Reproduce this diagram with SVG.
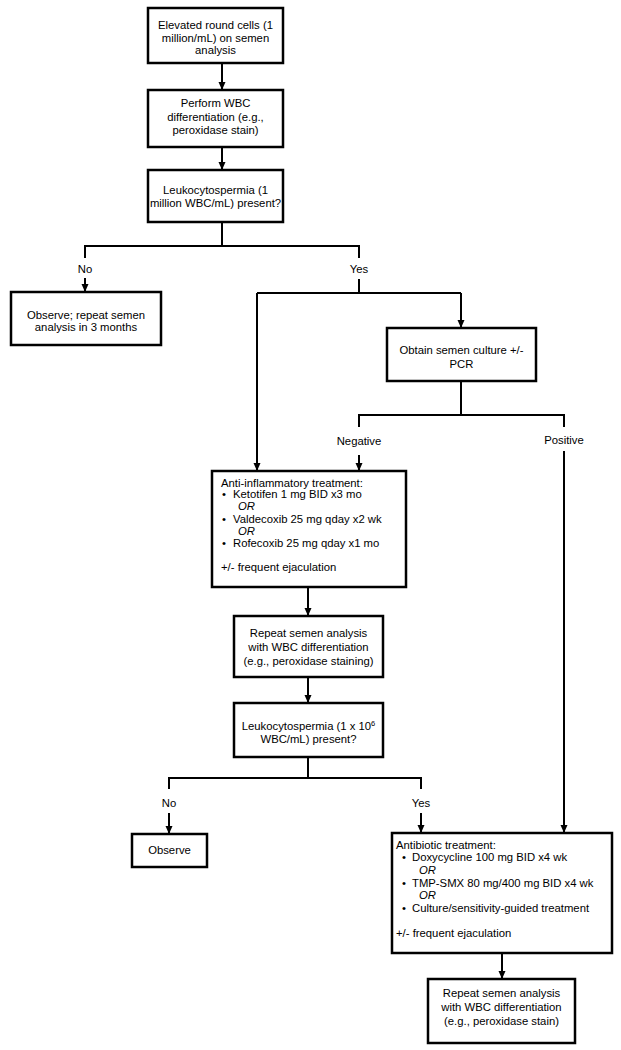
<svg xmlns="http://www.w3.org/2000/svg" width="621" height="1050" viewBox="0 0 621 1050">
<defs>
<marker id="ah" viewBox="0 0 8 8" refX="8" refY="4" markerWidth="8" markerHeight="8" markerUnits="userSpaceOnUse" orient="auto">
<path d="M0,0.5 L8,4 L0,7.5 Z" fill="#000"/>
</marker>
</defs>
<style>
.box{fill:#fff;stroke:#000;stroke-width:2.5}
.ln{fill:none;stroke:#000;stroke-width:2}
.ar{fill:none;stroke:#000;stroke-width:2;marker-end:url(#ah)}
text{font-family:"Liberation Sans",Arial,sans-serif;font-size:11.3px;fill:#000}
.c{text-anchor:middle}
.i{font-style:italic}
</style>
<rect width="621" height="1050" fill="#fff"/>
<g id="connectors">
<path class="ar" d="M222,63 V90"/>
<path class="ar" d="M222,147 V170"/>
<path class="ln" d="M222,222 V246 M85,258 V246 H359 V258"/>
<path class="ar" d="M85,278 V292"/>
<path class="ln" d="M359,279 V293 H257 M359,293 H461"/>
<path class="ar" d="M257,293 V471"/>
<path class="ar" d="M461,293 V328"/>
<path class="ln" d="M461,381 V415 M359,427 V415 H564 V427"/>
<path class="ar" d="M359,455 V471"/>
<path class="ar" d="M564,451 V833"/>
<path class="ar" d="M308,587 V616"/>
<path class="ar" d="M308,677 V703"/>
<path class="ln" d="M308,757 V778 M169,789 V778 H421 V789"/>
<path class="ar" d="M169,813 V834"/>
<path class="ar" d="M421,813 V833"/>
<path class="ar" d="M502,953 V979"/>
</g>
<g id="lbl-no1"><text class="c" x="85" y="273">No</text></g>
<g id="lbl-yes1"><text class="c" x="359" y="273">Yes</text></g>
<g id="lbl-neg"><text class="c" x="359" y="445">Negative</text></g>
<g id="lbl-pos"><text class="c" x="564" y="444">Positive</text></g>
<g id="lbl-no2"><text class="c" x="169" y="807">No</text></g>
<g id="lbl-yes2"><text class="c" x="421" y="807">Yes</text></g>
<g id="n1">
<rect class="box" x="148" y="8" width="135" height="55"/>
<text class="c" x="215.5" y="29">Elevated round cells (1</text>
<text class="c" x="215.5" y="41.5">million/mL) on semen</text>
<text class="c" x="215.5" y="54">analysis</text>
</g>
<g id="n2">
<rect class="box" x="148" y="90" width="135" height="57"/>
<text class="c" x="215.5" y="107">Perform WBC</text>
<text class="c" x="215.5" y="121">differentiation (e.g.,</text>
<text class="c" x="215.5" y="134">peroxidase stain)</text>
</g>
<g id="n3">
<rect class="box" x="148" y="170" width="135" height="52"/>
<text class="c" x="215.5" y="194">Leukocytospermia (1</text>
<text class="c" x="215.5" y="207">million WBC/mL) present?</text>
</g>
<g id="n4">
<rect class="box" x="11" y="292" width="150" height="53"/>
<text class="c" x="86" y="319">Observe; repeat semen</text>
<text class="c" x="86" y="331">analysis in 3 months</text>
</g>
<g id="n5">
<rect class="box" x="387" y="328" width="149" height="53"/>
<text class="c" x="461.5" y="354">Obtain semen culture +/-</text>
<text class="c" x="461.5" y="368">PCR</text>
</g>
<g id="n6">
<rect class="box" x="212" y="471" width="194" height="116"/>
<text x="221" y="487">Anti-inflammatory treatment:</text>
<text x="222" y="498">•</text><text x="233" y="498">Ketotifen 1 mg BID x3 mo</text>
<text class="i" x="238" y="510">OR</text>
<text x="222" y="523">•</text><text x="233" y="523">Valdecoxib 25 mg qday x2 wk</text>
<text class="i" x="238" y="535">OR</text>
<text x="222" y="547">•</text><text x="233" y="547">Rofecoxib 25 mg qday x1 mo</text>
<text x="221" y="571">+/- frequent ejaculation</text>
</g>
<g id="n7">
<rect class="box" x="234" y="616" width="149" height="61"/>
<text class="c" x="308.5" y="637">Repeat semen analysis</text>
<text class="c" x="308.5" y="651">with WBC differentiation</text>
<text class="c" x="308.5" y="665">(e.g., peroxidase staining)</text>
</g>
<g id="n8">
<rect class="box" x="234" y="703" width="149" height="54"/>
<text class="c" x="308.5" y="730">Leukocytospermia (1 x 10<tspan font-size="7.5px" dy="-4">6</tspan></text>
<text class="c" x="308.5" y="743">WBC/mL) present?</text>
</g>
<g id="n9">
<rect class="box" x="132" y="834" width="75" height="33"/>
<text class="c" x="169.5" y="854">Observe</text>
</g>
<g id="n10">
<rect class="box" x="392" y="833" width="220" height="120"/>
<text x="396" y="849">Antibiotic treatment:</text>
<text x="402" y="861">•</text><text x="412" y="861">Doxycycline 100 mg BID x4 wk</text>
<text class="i" x="419" y="874">OR</text>
<text x="402" y="887">•</text><text x="412" y="887">TMP-SMX 80 mg/400 mg BID x4 wk</text>
<text class="i" x="419" y="899">OR</text>
<text x="402" y="912">•</text><text x="412" y="912">Culture/sensitivity-guided treatment</text>
<text x="396" y="937">+/- frequent ejaculation</text>
</g>
<g id="n11">
<rect class="box" x="428" y="979" width="147" height="64"/>
<text class="c" x="501.5" y="997">Repeat semen analysis</text>
<text class="c" x="501.5" y="1011">with WBC differentiation</text>
<text class="c" x="501.5" y="1025">(e.g., peroxidase stain)</text>
</g>
</svg>
